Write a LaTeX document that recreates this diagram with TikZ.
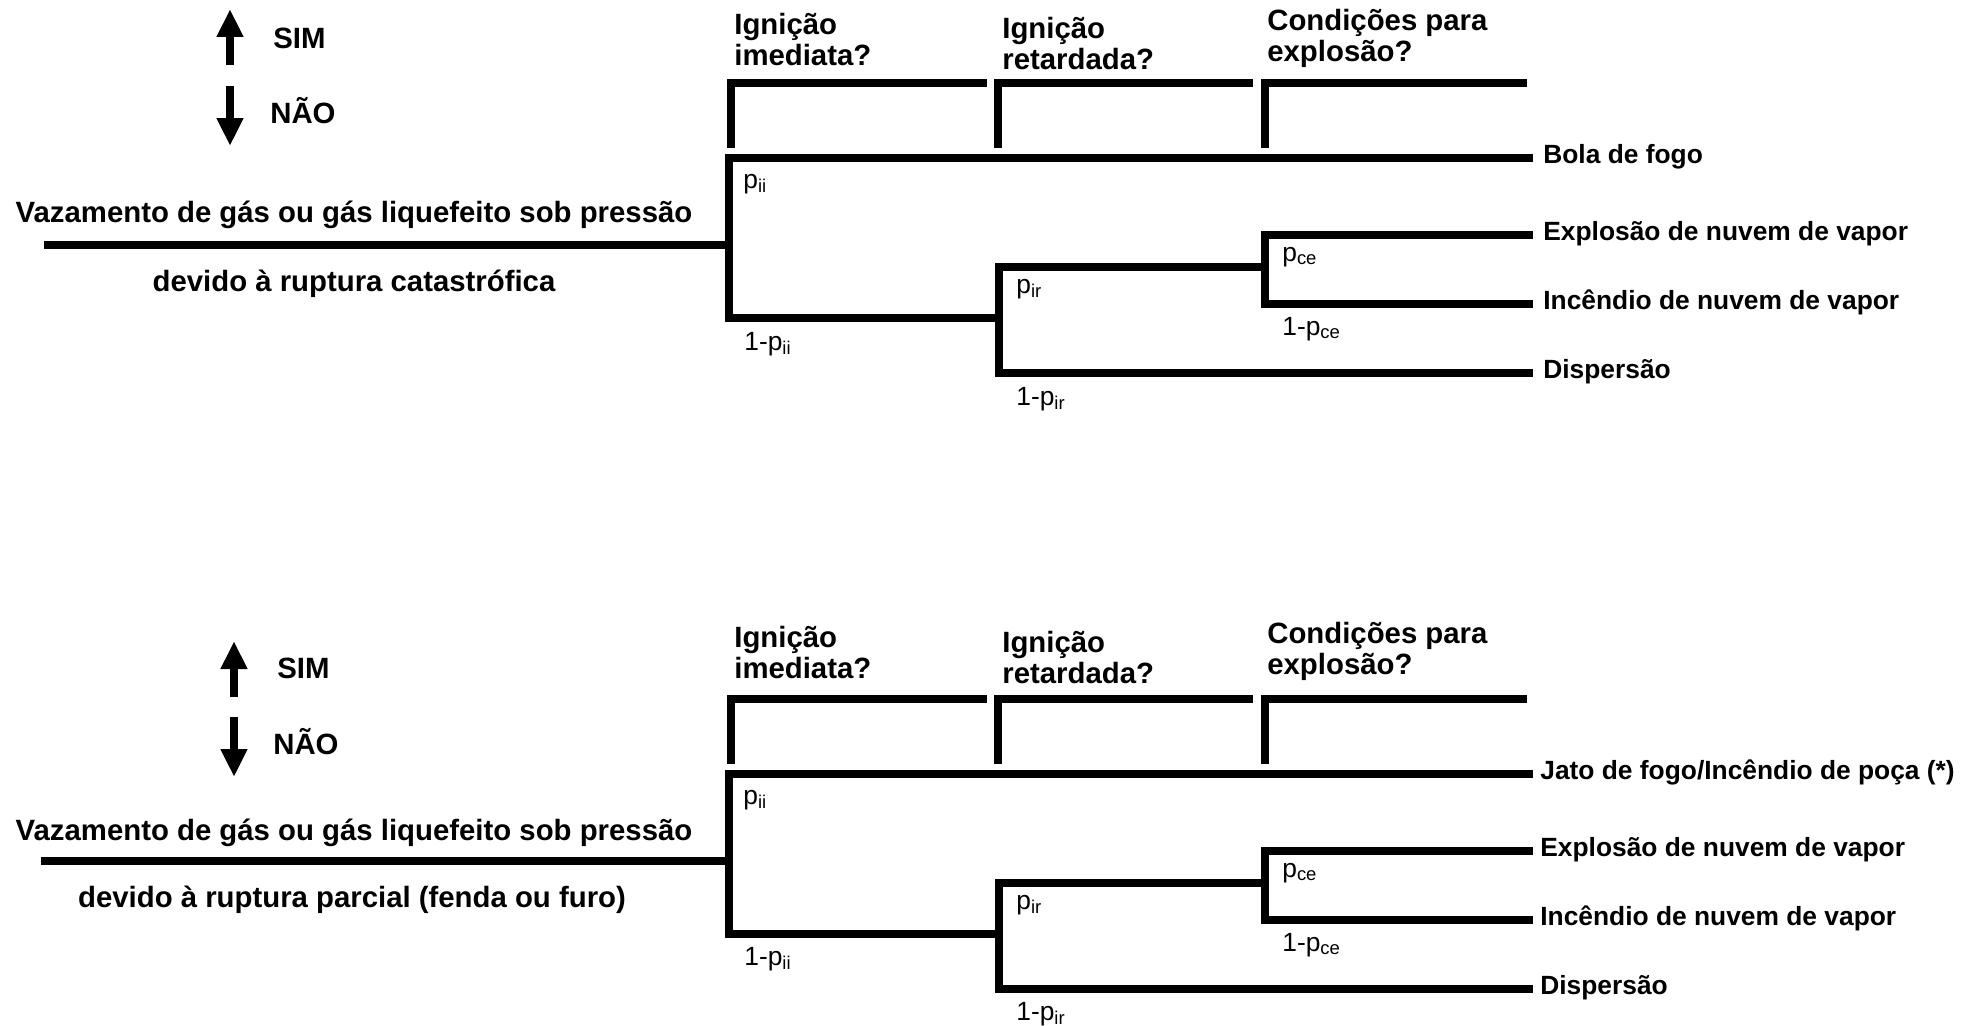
\documentclass[tikz,border=0pt]{standalone}
\usepackage{fontspec}
\setmainfont{Liberation Sans}
\usetikzlibrary{arrows.meta}

\begin{document}
\begin{tikzpicture}[x=0.02cm,y=-0.02cm,
  ramo/.style={line width=4.5pt,line join=miter},
  chave/.style={line width=4.3pt,line join=miter},
  seta/.style={line width=4pt,-{Triangle[length=0.56cm,width=0.5cm]}},
  titulo/.style={font=\fontsize{16.7}{17.8}\selectfont\bfseries,inner sep=0pt},
  pergunta/.style={titulo,align=left,anchor=north west},
  evento/.style={font=\fontsize{15}{17}\selectfont\bfseries,inner sep=0pt,anchor=base west},
  prob/.style={font=\fontsize{15}{17}\selectfont,inner sep=0pt,anchor=base west}]
\useasboundingbox (0,0) rectangle (1982,1025);

\node[titulo,anchor=base west] (a-sim) at (273,48) {SIM};
\node[titulo,anchor=base west] (a-nao) at (270,123) {NÃO};
\draw[seta] (230,65) -- (230,9);
\draw[seta] (230,86) -- (230,146);
\node[titulo,anchor=base] (a-vaz) at (354,222) {Vazamento de gás ou gás liquefeito sob pressão};
\node[titulo,anchor=base] (a-dev) at (354,291) {devido à ruptura catastrófica};
\node[pergunta] (a-q1) at (734,13) {Ignição\\imediata?};
\node[pergunta] (a-q2) at (1002,17) {Ignição\\retardada?};
\node[pergunta] (a-q3) at (1267,9) {Condições para\\explosão?};
\draw[chave] (731,148) |- (987,83);
\draw[chave] (998,148) |- (1253,83);
\draw[chave] (1265,148) |- (1527,83);
\coordinate (a-ini) at (44,245);
\coordinate (a-n0) at (729,245);
\coordinate (a-n1) at (999,318);
\coordinate (a-n2) at (1265,267);
\coordinate (a-f1) at (1533,158);
\coordinate (a-f2) at (1533,235);
\coordinate (a-f3) at (1533,304);
\coordinate (a-f4) at (1533,373);
\draw[ramo] (a-ini) -- (a-n0);
\draw[ramo] (a-f1) -| (a-n0) |- (a-n1);
\draw[ramo] (a-n2) -| (a-n1) |- (a-f4);
\draw[ramo] (a-f2) -| (a-n2) |- (a-f3);
\node[prob] (a-pii) at (743,188) {p\textsubscript{ii}};
\node[prob] (a-qii) at (744,350) {1-p\textsubscript{ii}};
\node[prob] (a-pir) at (1016,293) {p\textsubscript{ir}};
\node[prob] (a-qir) at (1016,405) {1-p\textsubscript{ir}};
\node[prob] (a-pce) at (1282,261) {p\textsubscript{ce}};
\node[prob] (a-qce) at (1282,335) {1-p\textsubscript{ce}};
\node[evento] (a-bola) at (1543,163) {Bola de fogo};
\node[evento] (a-expl) at (1543,240) {Explosão de nuvem de vapor};
\node[evento] (a-inc) at (1543,309) {Incêndio de nuvem de vapor};
\node[evento] (a-disp) at (1543,378) {Dispersão};

\begin{scope}[shift={(0,616)}]
\node[titulo,anchor=base west] (b-sim) at (277,62) {SIM};
\node[titulo,anchor=base west] (b-nao) at (273,138) {NÃO};
\draw[seta] (234,81) -- (234,25);
\draw[seta] (234,101) -- (234,161);
\node[titulo,anchor=base] (b-vaz) at (354,224) {Vazamento de gás ou gás liquefeito sob pressão};
\node[titulo,anchor=base] (b-dev) at (352,291) {devido à ruptura parcial (fenda ou furo)};
\node[pergunta] (b-q1) at (734,10) {Ignição\\imediata?};
\node[pergunta] (b-q2) at (1002,15) {Ignição\\retardada?};
\node[pergunta] (b-q3) at (1267,6) {Condições para\\explosão?};
\draw[chave] (731,148) |- (987,83);
\draw[chave] (998,148) |- (1253,83);
\draw[chave] (1265,148) |- (1527,83);
\coordinate (b-ini) at (41,245);
\coordinate (b-n0) at (729,245);
\coordinate (b-n1) at (999,318);
\coordinate (b-n2) at (1265,267);
\coordinate (b-f1) at (1533,158);
\coordinate (b-f2) at (1533,235);
\coordinate (b-f3) at (1533,304);
\coordinate (b-f4) at (1533,373);
\draw[ramo] (b-ini) -- (b-n0);
\draw[ramo] (b-f1) -| (b-n0) |- (b-n1);
\draw[ramo] (b-n2) -| (b-n1) |- (b-f4);
\draw[ramo] (b-f2) -| (b-n2) |- (b-f3);
\node[prob] (b-pii) at (743,188) {p\textsubscript{ii}};
\node[prob] (b-qii) at (744,349) {1-p\textsubscript{ii}};
\node[prob] (b-pir) at (1016,293) {p\textsubscript{ir}};
\node[prob] (b-qir) at (1016,404) {1-p\textsubscript{ir}};
\node[prob] (b-pce) at (1282,261) {p\textsubscript{ce}};
\node[prob] (b-qce) at (1282,335) {1-p\textsubscript{ce}};
\node[evento] (b-jato) at (1540,163) {Jato de fogo/Incêndio de poça (*)};
\node[evento] (b-expl) at (1540,240) {Explosão de nuvem de vapor};
\node[evento] (b-inc) at (1540,309) {Incêndio de nuvem de vapor};
\node[evento] (b-disp) at (1540,378) {Dispersão};
\end{scope}
\end{tikzpicture}
\end{document}
